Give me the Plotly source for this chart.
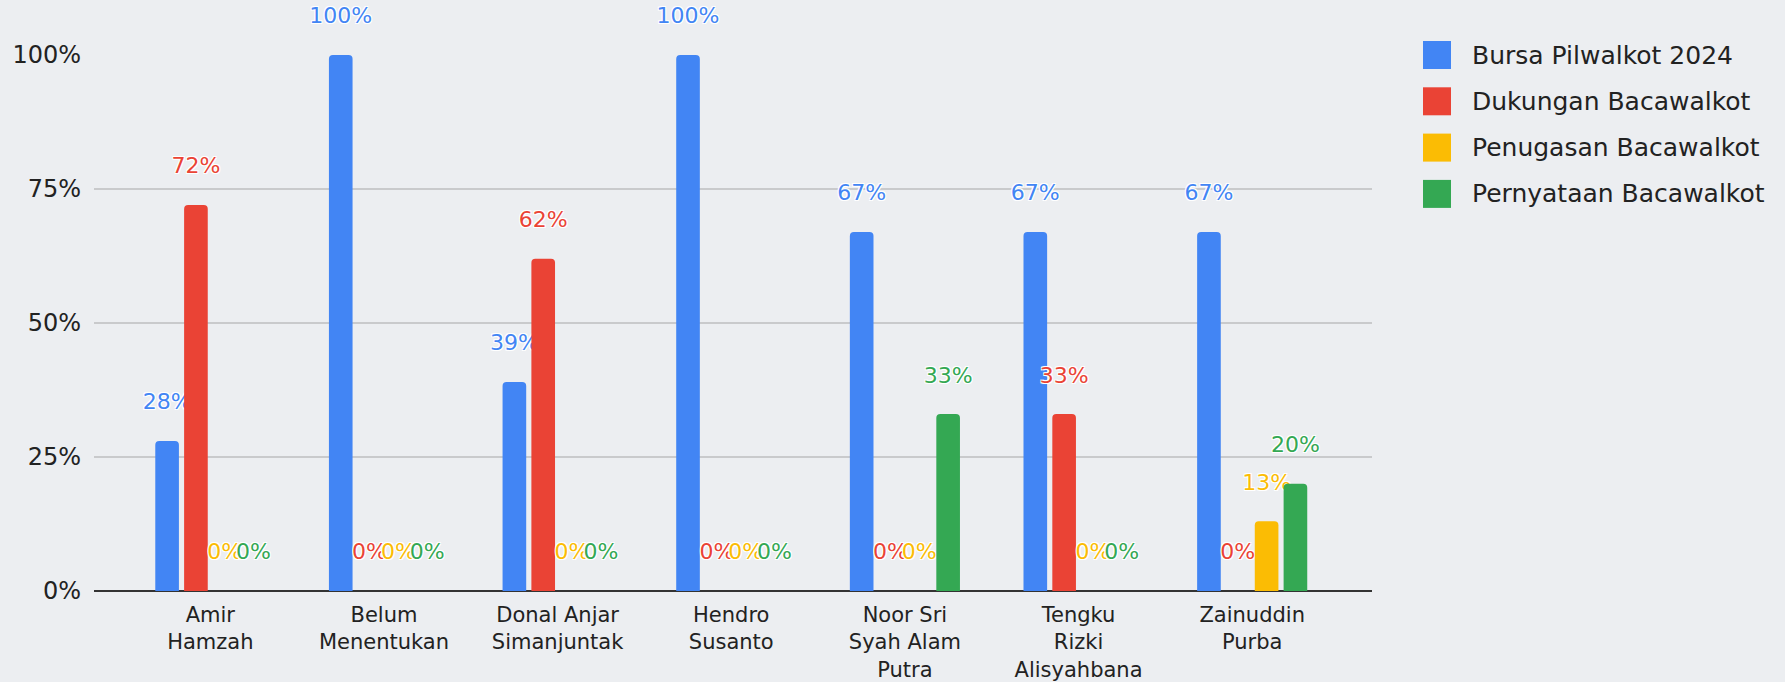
import plotly.graph_objects as go

categories = ["Amir<br>Hamzah", "Belum<br>Menentukan", "Donal Anjar<br>Simanjuntak",
              "Hendro<br>Susanto", "Noor Sri<br>Syah Alam<br>Putra",
              "Tengku<br>Rizki<br>Alisyahbana", "Zainuddin<br>Purba"]
series_names = ["Bursa Pilwalkot 2024", "Dukungan Bacawalkot",
                "Penugasan Bacawalkot", "Pernyataan Bacawalkot"]
bursa = [28, 100, 39, 100, 67, 67, 67]
dukungan = [72, 0, 62, 0, 0, 33, 0]
penugasan = [0, 0, 0, 0, 0, 0, 13]
pernyataan = [0, 0, 0, 0, 33, 0, 20]
y_ticks = [0, 25, 50, 75, 100]
y_tick_labels = ["0%", "25%", "50%", "75%", "100%"]
colors = ["#4285F4", "#EA4335", "#FBBC04", "#34A853"]

W, H = 1785, 682
ML, MR, MT, MB = 94, 413, 55, 91
PW, PH = W - ML - MR, H - MT - MB
FONT = "DejaVu Sans"
SHADOW = "-1px -1px 0 #fff, 1px -1px 0 #fff, -1px 1px 0 #fff, 1px 1px 0 #fff, 0 0 2px #fff"

fig = go.Figure()
for name, vals, col in zip(series_names, [bursa, dukungan, penugasan, pernyataan], colors):
    fig.add_trace(go.Bar(
        x=categories, y=vals, name=name,
        text=[f"{v}%" for v in vals],
        marker=dict(color=col, cornerradius=4, line=dict(width=0)),
        texttemplate="%{text}<br><span style='font-size:1px'>&nbsp;</span>",
        textposition="outside",
        cliponaxis=False, constraintext="none",
        textfont=dict(color=col, size=22, family=FONT, shadow=SHADOW),
        showlegend=False, hoverinfo="skip",
    ))

# manual legend with large swatches
for i, (name, col) in enumerate(zip(series_names, colors)):
    yc = 1 - i * 46.3 / PH
    half = 14 / PH
    fig.add_shape(type="rect", xref="paper", yref="paper",
                  x0=(1423 - ML) / PW, x1=(1451 - ML) / PW,
                  y0=yc - half, y1=yc + half,
                  fillcolor=col, line=dict(width=0))
    fig.add_annotation(xref="paper", yref="paper", x=(1470 - ML) / PW, y=yc,
                       xanchor="left", yanchor="middle", showarrow=False,
                       text=name, font=dict(size=25, family=FONT, color="#222"))

fig.update_layout(
    width=W, height=H,
    margin=dict(l=ML, r=MR, t=MT, b=MB),
    paper_bgcolor="#eceef1", plot_bgcolor="rgba(0,0,0,0)",
    barmode="group", bargap=0.336, bargroupgap=0.18,
    font=dict(family=FONT, color="#222"),
    xaxis=dict(range=[-0.67, 6.69], showgrid=False, showline=False, ticks="",
               tickfont=dict(size=21, color="#222"), automargin=False,
               ticklabelstandoff=9),
    yaxis=dict(range=[0, 100], tickvals=y_ticks, ticktext=y_tick_labels,
               showgrid=True, gridcolor="#c9cacc", gridwidth=2,
               zeroline=True, zerolinecolor="#333", zerolinewidth=2,
               tickfont=dict(size=24, color="#222"), automargin=False,
               ticklabelstandoff=12),
)

fig.write_html("out.html", config={"displayModeBar": False},
               post_script="document.body.style.margin='0';")
